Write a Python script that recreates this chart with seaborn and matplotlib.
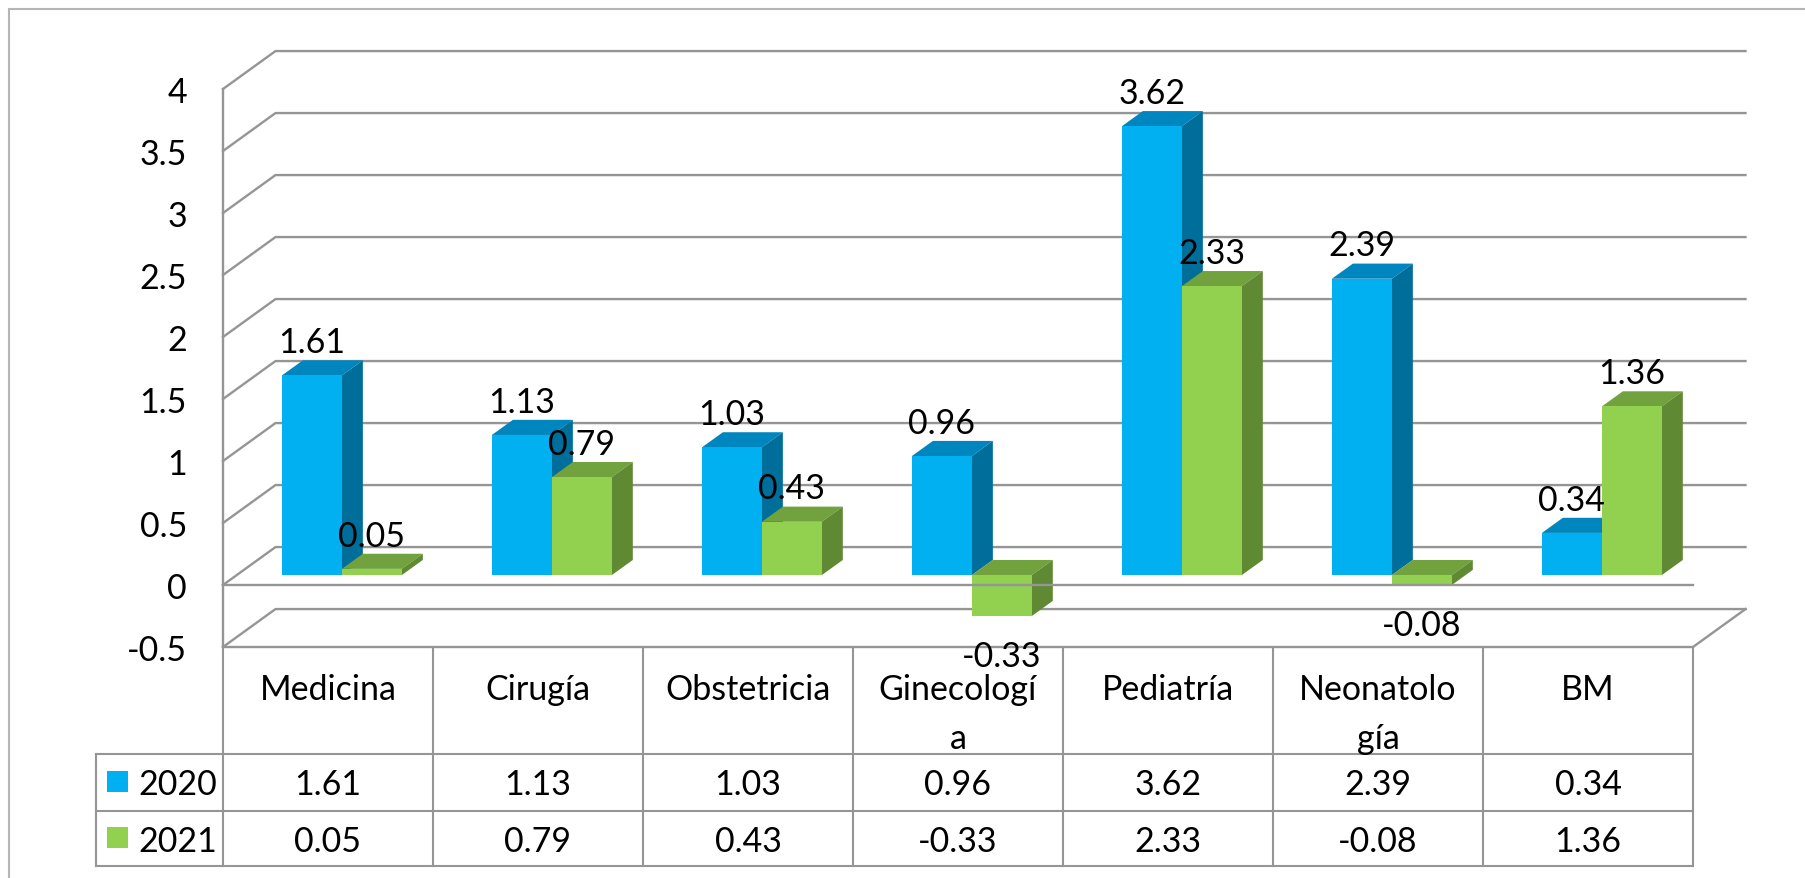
import numpy as np
import pandas as pd
import matplotlib
matplotlib.use('Agg')
import matplotlib.pyplot as plt
from matplotlib.patches import Polygon, Rectangle
from matplotlib.colors import to_hex
import seaborn as sns

# ---------------- datos ----------------
categorias = ['Medicina', 'Cirugía', 'Obstetricia', 'Ginecologí\na', 'Pediatría', 'Neonatolo\ngía', 'BM']
anios = ['2020', '2021']
valores_2020 = [1.61, 1.13, 1.03, 0.96, 3.62, 2.39, 0.34]
valores_2021 = [0.05, 0.79, 0.43, -0.33, 2.33, -0.08, 1.36]
yticks = [-0.5, 0, 0.5, 1, 1.5, 2, 2.5, 3, 3.5, 4]

# colores de cara frontal, tapa y lateral
color_frente = {'2020': '#00B0F0', '2021': '#92D050'}
color_tapa = {'2020': '#0086BE', '2021': '#71A23E'}
color_lado = {'2020': '#006E9A', '2021': '#5F8933'}
gris = '#959595'

df = pd.DataFrame({'categoria': categorias * 2,
                   'anio': [anios[0]] * len(categorias) + [anios[1]] * len(categorias),
                   'valor': valores_2020 + valores_2021})

plt.rcParams['font.family'] = ['Lato', 'DejaVu Sans']
FS = 24.5

W, H = 1806, 879
fig = plt.figure(figsize=(W / 100, H / 100), dpi=100)

# profundidad 3D en unidades de datos
DX, DY = 0.25, 0.306          # pared completa
DX0, DY0 = 0.066, 0.080       # cara frontal de las barras
DXB, DYB = 0.10, 0.122        # profundidad de cada barra

ax = fig.add_axes([223 / W, (H - 648) / H, 1470 / W, 558 / H])
sns.barplot(data=df, x='categoria', y='valor', hue='anio', palette=color_frente,
            width=0.571, saturation=1, errorbar=None, legend=False, ax=ax)
ax.set_xlim(-0.5, 6.5)
ax.set_ylim(-0.5, 4)
ax.set_xticks([])
ax.set_xlabel('')
ax.set_ylabel('')
ax.set_yticks(yticks)
ax.set_yticklabels([f'{t:g}' for t in yticks], fontsize=FS)
ax.tick_params(axis='y', length=0, pad=26)
for s in ax.spines.values():
    s.set_visible(False)

# paredes: lineas de division en pared lateral y fondo
for t in yticks:
    ax.plot([-0.5, -0.5 + DX, 6.5 + DX], [t, t + DY, t + DY], color=gris, lw=1.7,
            clip_on=False, zorder=1)
ax.plot([-0.5, -0.5], [-0.5, 4], color=gris, lw=1.7, clip_on=False, zorder=1)
ax.plot([6.5, 6.5 + DX], [-0.5, -0.5 + DY], color=gris, lw=1.7, clip_on=False, zorder=1)
ax.plot([-0.5, 6.5], [-0.5, -0.5], color=gris, lw=1.7, clip_on=False, zorder=1)

# barras en 3D
for p in list(ax.patches):
    anio = '2020' if to_hex(p.get_facecolor()) == color_frente['2020'].lower() else '2021'
    base = 3 if anio == '2020' else 5
    x0, w, y, h = p.get_x(), p.get_width(), p.get_y(), p.get_height()
    p.set_x(x0 + DX0)
    p.set_y(y + DY0)
    p.set_zorder(base + 1)
    p.set_edgecolor('none')
    xa, xb = x0 + DX0, x0 + DX0 + w
    ybot, ytop = min(y, y + h) + DY0, max(y, y + h) + DY0
    ax.add_patch(Polygon([(xa, ytop), (xb, ytop), (xb + DXB, ytop + DYB), (xa + DXB, ytop + DYB)],
                         closed=True, facecolor=color_tapa[anio], edgecolor='none', zorder=base))
    ax.add_patch(Polygon([(xb, ybot), (xb, ytop), (xb + DXB, ytop + DYB), (xb + DXB, ybot + DYB)],
                         closed=True, facecolor=color_lado[anio], edgecolor='none', zorder=base))
    if h >= 0:
        ax.annotate(f'{h:.2f}', xy=((xa + xb) / 2, ytop), xytext=(0, 24), textcoords='offset points',
                    ha='center', va='center', fontsize=FS, zorder=10)
    else:
        ax.annotate(f'{h:.2f}', xy=((xa + xb) / 2, ybot), xytext=(0, -29), textcoords='offset points',
                    ha='center', va='center', fontsize=FS, zorder=10)

# linea del cero en el plano frontal
ax.plot([-0.5, 6.5], [0, 0], color=gris, lw=1.7, clip_on=False, zorder=8)

# ---------------- tabla de datos ----------------
tab = fig.add_axes([223 / W, (H - 867) / H, 1470 / W, 217 / H])
tab.set_xlim(-0.5, 6.5)
tab.set_ylim(217, 0)
tab.axis('off')
filas = [0, 105, 162, 217]
LEG_X = -0.5 - 127 / 210
for f in filas[1:]:
    tab.plot([LEG_X, 6.5], [f, f], color=gris, lw=1.5, clip_on=False)
for i in range(len(categorias) + 1):
    tab.plot([i - 0.5, i - 0.5], [0, 217], color=gris, lw=1.5, clip_on=False)
tab.plot([LEG_X, LEG_X], [105, 217], color=gris, lw=1.5, clip_on=False)

for i, cat in enumerate(categorias):
    for k, linea in enumerate(cat.split('\n')):
        tab.text(i, 50 + 49 * k, linea, ha='center', va='baseline', fontsize=FS)
    tab.text(i, 145, f'{valores_2020[i]:.2f}', ha='center', va='baseline', fontsize=FS)
    tab.text(i, 202, f'{valores_2021[i]:.2f}', ha='center', va='baseline', fontsize=FS)

for anio, y_sw, y_txt in [('2020', 122, 145), ('2021', 178, 202)]:
    tab.add_patch(Rectangle((LEG_X + 11 / 210, y_sw), 21 / 210, 21, facecolor=color_frente[anio],
                            edgecolor='none', clip_on=False))
    tab.text(LEG_X + 42 / 210, y_txt, anio, ha='left', va='baseline', fontsize=FS)

# borde exterior del grafico
fig.add_artist(Rectangle((9.5 / W, -0.05), 1.2, (H - 9.5) / H + 0.05, transform=fig.transFigure,
                         fill=False, edgecolor='#b5b5b5', lw=1.5))

fig.savefig('out.png', dpi=100)
